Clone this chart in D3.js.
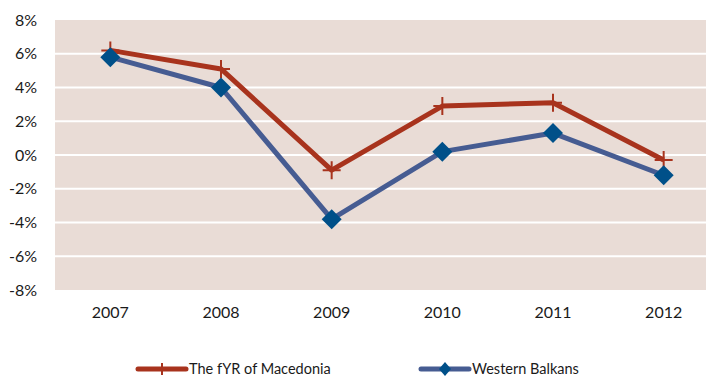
<!DOCTYPE html>
<html>
<head>
<meta charset="utf-8">
<script src="https://cdn.jsdelivr.net/npm/d3@7/dist/d3.min.js"></script>
<style>
  html, body { margin: 0; padding: 0; background: #fff; }
  svg { display: block; font-family: Lato, "Open Sans", sans-serif; }
</style>
</head>
<body>
<svg id="chart" width="706" height="378"></svg>
<script>
// Annual growth, percent
const years = ["2007", "2008", "2009", "2010", "2011", "2012"];
const macedonia = [6.2, 5.1, -0.9, 2.9, 3.1, -0.3];
const westernBalkans = [5.8, 4.0, -3.8, 0.2, 1.3, -1.2];
const yTicks = [-8, -6, -4, -2, 0, 2, 4, 6, 8];
const seriesNames = ["The fYR of Macedonia", "Western Balkans"];

const svg = d3.select("#chart");
const plot = { left: 55, top: 20, width: 664, height: 270 };

const x = d3.scaleBand().domain(years).range([plot.left, plot.left + plot.width]);
const y = d3.scaleLinear().domain([-8, 8]).range([plot.top + plot.height, plot.top]);

// plot background
svg.append("rect")
  .attr("x", plot.left).attr("y", plot.top)
  .attr("width", plot.width).attr("height", plot.height)
  .attr("fill", "#E9DCD6");

// horizontal gridlines
svg.append("g")
  .selectAll("line")
  .data(yTicks.filter(t => t > -8 && t < 8))
  .join("line")
  .attr("x1", plot.left).attr("x2", plot.left + plot.width)
  .attr("y1", d => y(d)).attr("y2", d => y(d))
  .attr("stroke", "#fff").attr("stroke-width", 2);

// y axis labels
const yAxis = d3.axisLeft(y).tickValues(yTicks).tickFormat(d => d + "%").tickSize(0).tickPadding(18);
svg.append("g")
  .attr("transform", `translate(${plot.left},0)`)
  .call(yAxis)
  .call(g => g.select(".domain").remove())
  .call(g => g.selectAll("text").attr("font-size", 16).attr("fill", "#1a1a1a").attr("font-family", "Lato, sans-serif"));

// x axis labels
const xAxis = d3.axisBottom(x).tickSize(0).tickPadding(17);
svg.append("g")
  .attr("transform", `translate(0,${plot.top + plot.height})`)
  .call(xAxis)
  .call(g => g.select(".domain").remove())
  .call(g => g.selectAll("text").attr("font-size", 16).attr("fill", "#1a1a1a").attr("font-family", "Lato, sans-serif"));

const cx = d => x(d) + x.bandwidth() / 2;
const line = d3.line().x((d, i) => cx(years[i])).y(d => y(d));

const redLine = "#A8331D";
const blueLine = "#465C92";
const blueMark = "#005089";

// Western Balkans series
svg.append("path")
  .datum(westernBalkans)
  .attr("d", line)
  .attr("fill", "none").attr("stroke", blueLine).attr("stroke-width", 5)
  .attr("stroke-linejoin", "round");

// Macedonia series
svg.append("path")
  .datum(macedonia)
  .attr("d", line)
  .attr("fill", "none").attr("stroke", redLine).attr("stroke-width", 5)
  .attr("stroke-linejoin", "round");

// plus markers
svg.append("g")
  .selectAll("path")
  .data(macedonia)
  .join("path")
  .attr("transform", (d, i) => `translate(${cx(years[i])},${y(d)})`)
  .attr("d", "M-9,0H9M0,-9V9")
  .attr("stroke", redLine).attr("stroke-width", 2);

// diamond markers
svg.append("g")
  .selectAll("path")
  .data(westernBalkans)
  .join("path")
  .attr("transform", (d, i) => `translate(${cx(years[i])},${y(d)})`)
  .attr("d", "M0,-10L10,0L0,10L-10,0Z")
  .attr("fill", blueMark);

// legend
const legend = svg.append("g").attr("font-size", 14.5).attr("fill", "#1a1a1a");
const ly = 369;
const items = [
  { x0: 138, x1: 186, color: redLine, marker: "plus", text: seriesNames[0] },
  { x0: 421, x1: 469, color: blueLine, marker: "diamond", text: seriesNames[1] }
];
items.forEach(it => {
  legend.append("line")
    .attr("x1", it.x0).attr("x2", it.x1).attr("y1", ly).attr("y2", ly)
    .attr("stroke", it.color).attr("stroke-width", 5).attr("stroke-linecap", "round");
  const mx = (it.x0 + it.x1) / 2;
  if (it.marker === "plus") {
    legend.append("path")
      .attr("d", `M${mx},${ly - 6}V${ly + 6}`)
      .attr("stroke", it.color).attr("stroke-width", 2);
  } else {
    legend.append("path")
      .attr("d", `M${mx},${ly - 7}L${mx + 6},${ly}L${mx},${ly + 7}L${mx - 6},${ly}Z`)
      .attr("fill", blueMark);
  }
  legend.append("text")
    .attr("x", it.x1 + 3).attr("y", ly).attr("dy", "0.35em")
    .text(it.text);
});
</script>
</body>
</html>
